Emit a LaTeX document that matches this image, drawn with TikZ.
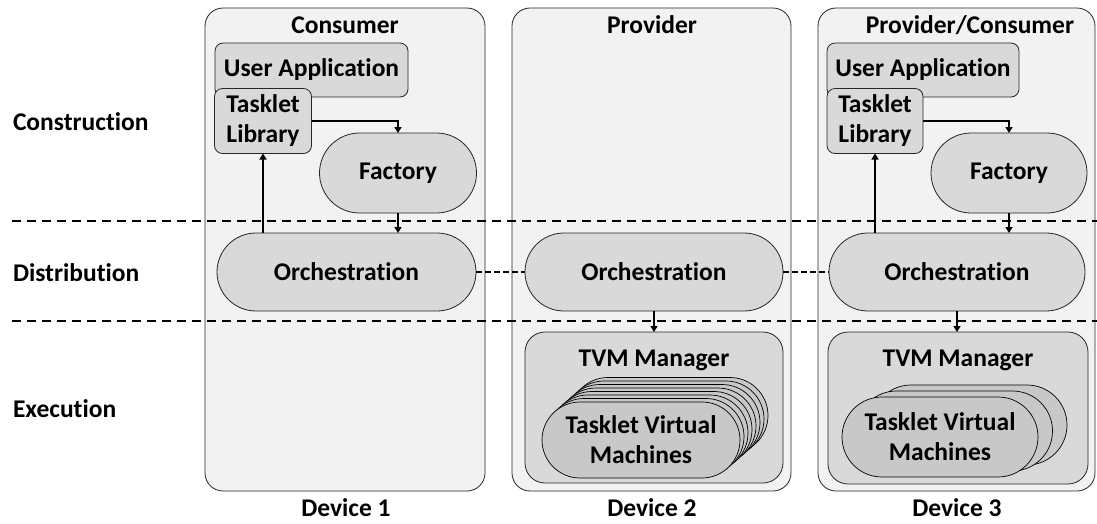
\documentclass[tikz,border=0pt]{standalone}
\usepackage{fontspec}
\setmainfont{Carlito}[Ligatures=NoCommon]
\usetikzlibrary{arrows.meta,shapes.misc}
\definecolor{devfill}{HTML}{F2F2F2}
\definecolor{boxfill}{HTML}{D9D9D9}
\definecolor{vmfill}{HTML}{C8C8C8}
\begin{document}
\begin{tikzpicture}[x=1pt,y=-1pt,
  font=\fontsize{25.5}{30}\selectfont\bfseries,
  every node/.style={inner sep=0pt, outer sep=0pt},
  device/.style={draw=black!85, fill=devfill, rounded corners=18pt, line width=0.8pt},
  rbox/.style={draw=black!85, fill=boxfill, rounded corners=8pt, line width=0.8pt, align=center},
  mgr/.style={draw=black!85, fill=boxfill, rounded corners=20pt, line width=0.8pt},
  stad/.style={rounded rectangle, draw=black!85, fill=boxfill, line width=0.8pt, align=center},
  vm/.style={rounded rectangle, draw=black, fill=vmfill, line width=0.7pt, align=center, minimum width=198pt, minimum height=76pt},
  vmb/.style={rounded rectangle, draw=black, fill=vmfill, line width=0.7pt, align=center, minimum width=196pt, minimum height=80pt},
  arr/.style={-{Triangle[length=6pt,width=7pt]}, line width=2pt},
  layer/.style={dash pattern=on 9pt off 6pt, line width=1.2pt},
  link/.style={dash pattern=on 6pt off 3pt, line width=2pt},
  lbl/.style={anchor=west}
]
\useasboundingbox (0,0) rectangle (1097,523);

% devices
\node[device, minimum width=280pt, minimum height=483pt] (d1) at (345,249.5) {};
\node[device, minimum width=279pt, minimum height=483pt] (d2) at (651.5,249.5) {};
\node[device, minimum width=277pt, minimum height=483pt] (d3) at (956.5,249.5) {};

\node (t1) at (345,25) {Consumer};
\node (t2) at (652,25) {Provider};
\node (t3) at (970,25) {Provider/Consumer};

\node (l1) at (346,508) {Device 1};
\node (l2) at (652,508) {Device 2};
\node (l3) at (957,508) {Device 3};

% layer lines
\coordinate (a1) at (12,221);
\coordinate (a2) at (1097,221);
\coordinate (b1) at (12,321);
\coordinate (b2) at (1097,321);
\draw[layer] (a1) -- (a2);
\draw[layer] (b1) -- (b2);

\node[lbl] (r1) at (13,122) {Construction};
\node[lbl] (r2) at (13,273) {Distribution};
\node[lbl] (r3) at (13,409) {Execution};

% device 1
\node[rbox, minimum width=193pt, minimum height=54pt] (ua1) at (311.5,70) {User Application};
\node[rbox, minimum width=97pt, minimum height=65pt] (tl1) at (263,121) {Tasklet\\Library};
\node[stad, minimum width=157pt, minimum height=80pt] (f1) at (398,173) {Factory};
\node[stad, minimum width=259pt, minimum height=78pt] (o1) at (346.5,272) {Orchestration};

% device 2
\node[stad, minimum width=258pt, minimum height=78pt] (o2) at (654,272) {Orchestration};
\node[mgr, minimum width=258pt, minimum height=151pt] (m2) at (654,407.5) {};
\node (mt2) at (654,360) {TVM Manager};
\foreach \i in {7,6,...,1}{
  \node[vm] (v2\i) at ({641+4*\i},{440-3.5*\i}) {};
}
\node[vm] (v2) at (641,440) {Tasklet Virtual\\Machines};

% device 3
\node[rbox, minimum width=192pt, minimum height=54pt] (ua3) at (923,70) {User Application};
\node[rbox, minimum width=96pt, minimum height=65pt] (tl3) at (875,121) {Tasklet\\Library};
\node[stad, minimum width=156pt, minimum height=80pt] (f3) at (1009,173) {Factory};
\node[stad, minimum width=256pt, minimum height=78pt] (o3) at (957,272) {Orchestration};
\node[mgr, minimum width=260pt, minimum height=152pt] (m3) at (958,408) {};
\node (mt3) at (958,360) {TVM Manager};
\node[vmb] (v32) at (969,425) {};
\node[vmb] (v31) at (954.5,431) {};
\node[vmb] (v3) at (940,437) {Tasklet Virtual\\Machines};

% arrows
\draw[arr] (tl1.east) -| (f1.north);
\draw[arr] (f1.south) -- (f1.south |- o1.north);
\draw[arr] (tl1.south |- o1.north) -- (tl1.south);
\draw[arr] (tl3.east) -| (f3.north);
\draw[arr] (f3.south) -- (f3.south |- o3.north);
\draw[arr] (tl3.south |- o3.north) -- (tl3.south);
\draw[arr] (o2.south) -- (m2.north);
\draw[arr] (o3.south) -- (o3.south |- m3.north);

\draw[link] (o1.east) -- (o2.west);
\draw[link] (o2.east) -- (o3.west);
\end{tikzpicture}
\end{document}
